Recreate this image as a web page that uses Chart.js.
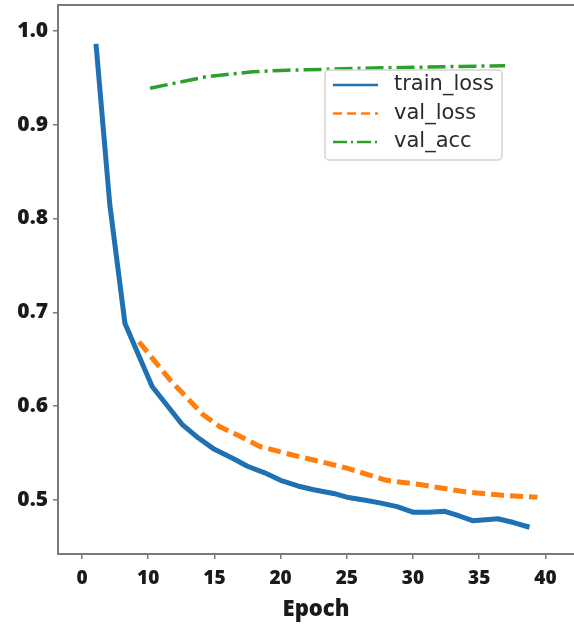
<!DOCTYPE html>
<html>
<head>
<meta charset="utf-8">
<script src="https://cdn.jsdelivr.net/npm/chart.js@4/dist/chart.umd.min.js"></script>
<style>
  html, body { margin: 0; padding: 0; background: #fff; }
  #wrap { width: 574px; height: 628px; }
</style>
</head>
<body>
<div id="wrap"><canvas id="c" width="574" height="628"></canvas></div>
<script>
// epoch positions and values for each curve
const trainX = [6.06, 7.1, 8.25, 10.3, 12.6, 13.8, 15.0, 16.3, 17.5, 18.8, 20.0, 21.3, 22.5, 24.0, 25.0, 26.3, 27.5, 28.8, 30.0, 31.2, 32.4, 33.5, 34.5, 35.5, 36.4, 37.6, 38.8];
const trainLoss = [0.986, 0.815, 0.688, 0.621, 0.580, 0.566, 0.554, 0.545, 0.536, 0.529, 0.521, 0.515, 0.511, 0.507, 0.503, 0.500, 0.497, 0.493, 0.487, 0.487, 0.488, 0.483, 0.478, 0.479, 0.480, 0.476, 0.471];

const valX = [9.31, 11.65, 14.14, 15.42, 16.93, 18.44, 20.9, 22.97, 25.0, 28.0, 30.75, 33.8, 36.8, 39.4];
const valLoss = [0.6685, 0.628, 0.591, 0.578, 0.568, 0.557, 0.548, 0.541, 0.534, 0.521, 0.516, 0.509, 0.505, 0.503];

const accX = [10.14, 12.3, 14.4, 17.9, 20.5, 23.6, 26.2, 30.0, 33.5, 36.95];
const valAcc = [0.9387, 0.945, 0.951, 0.9563, 0.958, 0.9589, 0.960, 0.961, 0.962, 0.9627];

const xTickValues = [5, 10, 15, 20, 25, 30, 35, 40];
const xTickLabels = ["0", "10", "15", "20", "25", "30", "35", "40"];
const yTickValues = [0.5, 0.6, 0.7, 0.8, 0.9, 1.0];

const pts = (xs, ys) => xs.map((x, i) => ({ x, y: ys[i] }));

const AXIS = "#7a7a7a";
const INK = "#1a1a1a";

// top frame line (no right spine)
const frameTop = {
  id: "frameTop",
  beforeDatasetsDraw(chart) {
    const { ctx, chartArea: a } = chart;
    ctx.save();
    ctx.strokeStyle = AXIS;
    ctx.lineWidth = 2;
    ctx.beginPath();
    ctx.moveTo(a.left, a.top);
    ctx.lineTo(a.right, a.top);
    ctx.stroke();
    ctx.restore();
  }
};

// boxed legend sitting inside the plot, upper right
const boxLegend = {
  id: "boxLegend",
  afterDatasetsDraw(chart, args, opts) {
    const { ctx } = chart;
    const { x, y, w, h, rowH, firstRow } = opts;
    ctx.save();
    ctx.fillStyle = "rgba(255,255,255,0.85)";
    ctx.strokeStyle = "#d4d4d4";
    ctx.lineWidth = 1.5;
    ctx.beginPath();
    ctx.roundRect(x, y, w, h, 4);
    ctx.fill();
    ctx.stroke();
    ctx.font = "normal 400 21px \"DejaVu Sans\", sans-serif";
    ctx.textBaseline = "middle";
    ctx.textAlign = "left";
    chart.data.datasets.forEach((ds, i) => {
      const cy = y + firstRow + i * rowH;
      ctx.strokeStyle = ds.borderColor;
      ctx.lineWidth = 2.5;
      ctx.setLineDash(ds.legendDash || []);
      ctx.beginPath();
      ctx.moveTo(x + 8, cy);
      ctx.lineTo(x + 53, cy);
      ctx.stroke();
      ctx.setLineDash([]);
      ctx.fillStyle = "#2b2b2b";
      ctx.fillText(ds.label, x + 69, cy);
    });
    ctx.restore();
  }
};

new Chart(document.getElementById("c"), {
  type: "line",
  data: {
    datasets: [
      { label: "train_loss", data: pts(trainX, trainLoss), borderColor: "#1f71b3", borderWidth: 5, legendDash: [] },
      { label: "val_loss", data: pts(valX, valLoss), borderColor: "#ff7f0e", borderWidth: 5, borderDash: [13, 6], legendDash: [9, 5] },
      { label: "val_acc", data: pts(accX, valAcc), borderColor: "#2ca02c", borderWidth: 3.5, borderDash: [18, 5, 3, 5], legendDash: [14, 4, 2, 4] }
    ]
  },
  plugins: [frameTop, boxLegend],
  options: {
    responsive: false,
    animation: false,
    layout: { padding: { top: 5, right: 0, left: 0, bottom: 0 } },
    elements: { point: { radius: 0 }, line: { tension: 0, borderCapStyle: "butt", borderJoinStyle: "round" } },
    plugins: {
      legend: { display: false },
      tooltip: { enabled: false },
      boxLegend: { x: 325, y: 70, w: 177, h: 90, rowH: 28.5, firstRow: 15 }
    },
    scales: {
      x: {
        type: "linear",
        min: 3.19,
        max: 42.16,
        afterFit(s) { s.height = 74; s.paddingLeft = 0; s.paddingRight = 0; },
        afterBuildTicks(s) { s.ticks = xTickValues.map(v => ({ value: v })); },
        ticks: {
          color: INK,
          padding: 8,
          font: { family: "'Open Sans'", weight: 800, size: 19 },
          callback: (v) => xTickLabels[xTickValues.indexOf(v)]
        },
        grid: { display: true, drawOnChartArea: false, drawTicks: true, tickLength: 5, color: AXIS, lineWidth: 1.5 },
        border: { display: true, color: AXIS, width: 2 },
        title: {
          display: true,
          text: "Epoch",
          color: INK,
          font: { family: "'Open Sans'", weight: 800, size: 22 },
          padding: { top: 0, bottom: 5 }
        }
      },
      y: {
        type: "linear",
        min: 0.4425,
        max: 1.0274,
        afterFit(s) { s.width = 58; s.paddingTop = 0; s.paddingBottom = 0; },
        afterBuildTicks(s) { s.ticks = yTickValues.map(v => ({ value: v })); },
        ticks: {
          color: INK,
          padding: 5,
          font: { family: "'Open Sans'", weight: 800, size: 21 },
          callback: (v) => v.toFixed(1)
        },
        grid: { display: true, drawOnChartArea: false, drawTicks: true, tickLength: 5, color: AXIS, lineWidth: 1.5 },
        border: { display: true, color: AXIS, width: 2 }
      }
    }
  }
});
</script>
</body>
</html>
